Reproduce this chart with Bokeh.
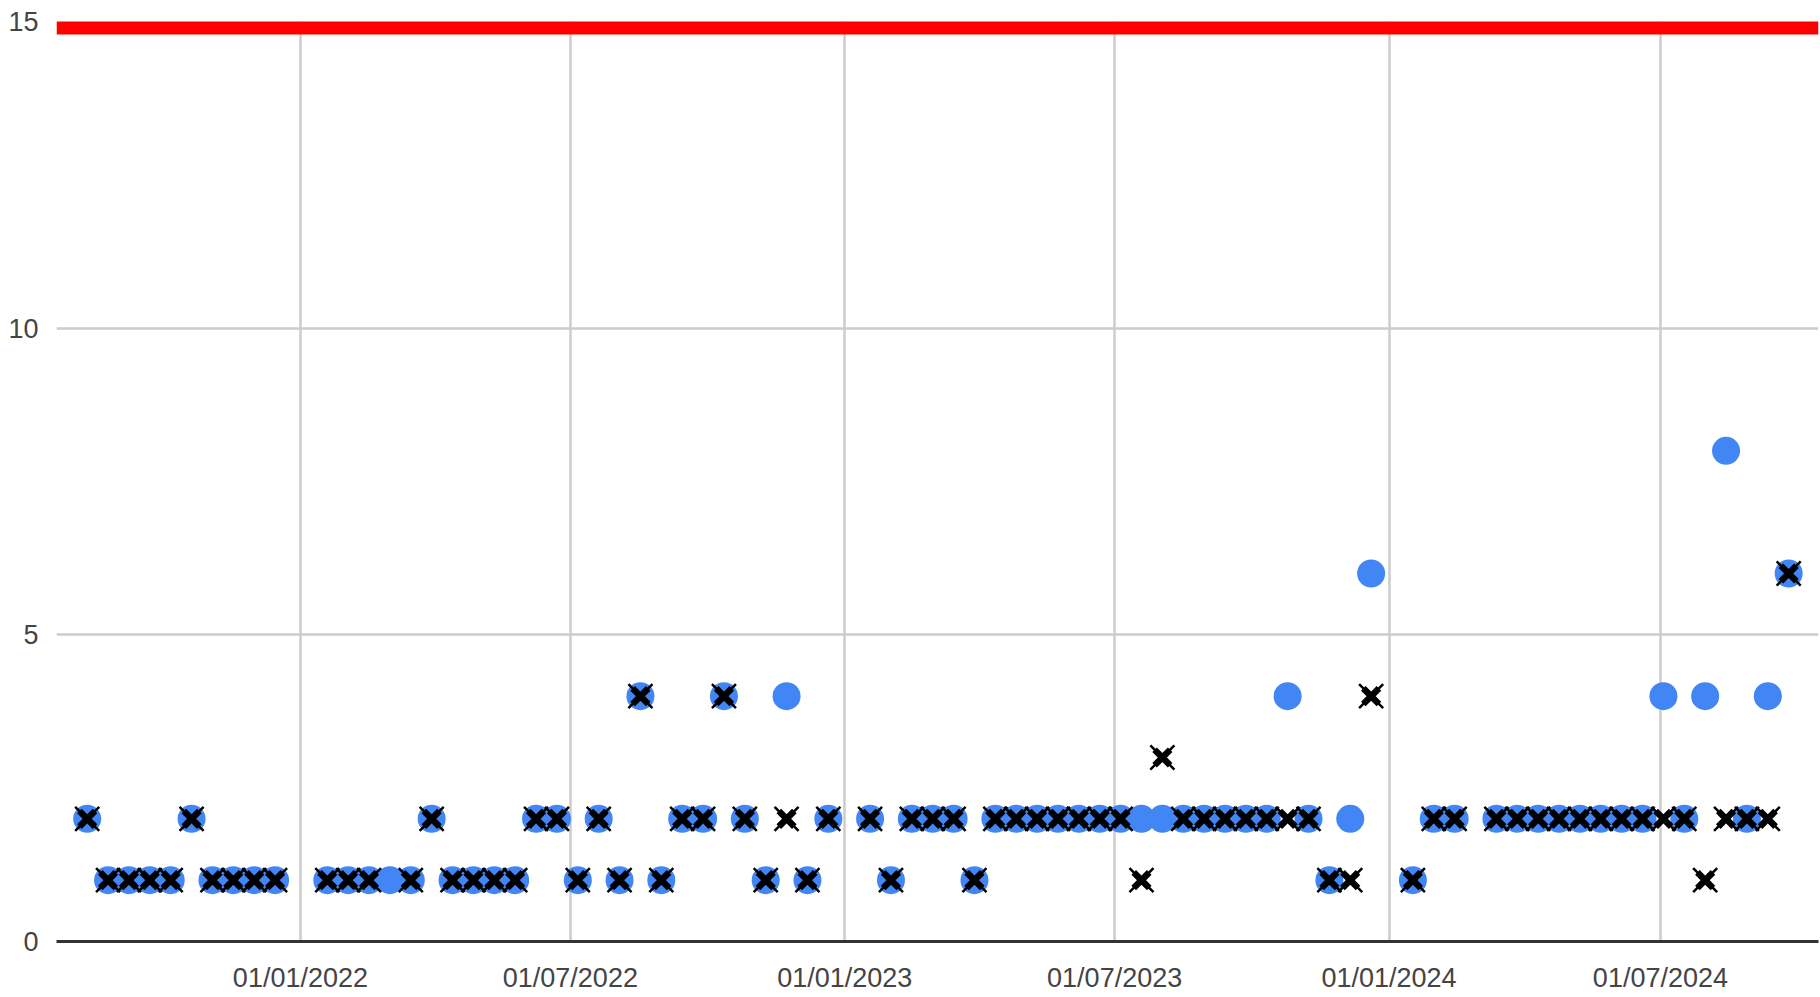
import pandas as pd
from bokeh.plotting import figure
from bokeh.models import Range1d, FixedTicker, DatetimeTickFormatter, ColumnDataSource
from bokeh.embed import file_html
from bokeh.resources import INLINE

# ---- data ----
dates = [
    "2021-08-11", "2021-08-25", "2021-09-08", "2021-09-22", "2021-10-06", "2021-10-20",
    "2021-11-03", "2021-11-17", "2021-12-01", "2021-12-15",
    "2022-01-19", "2022-02-02", "2022-02-16", "2022-03-02", "2022-03-16", "2022-03-30",
    "2022-04-13", "2022-04-27", "2022-05-11", "2022-05-25", "2022-06-08", "2022-06-22",
    "2022-07-06", "2022-07-20", "2022-08-03", "2022-08-17", "2022-08-31", "2022-09-14",
    "2022-09-28", "2022-10-12", "2022-10-26", "2022-11-09", "2022-11-23", "2022-12-07",
    "2022-12-21",
    "2023-01-18", "2023-02-01", "2023-02-15", "2023-03-01", "2023-03-15", "2023-03-29",
    "2023-04-12", "2023-04-26", "2023-05-10", "2023-05-24", "2023-06-07", "2023-06-21",
    "2023-07-05", "2023-07-19", "2023-08-02", "2023-08-16", "2023-08-30", "2023-09-13",
    "2023-09-27", "2023-10-11", "2023-10-25", "2023-11-08", "2023-11-22", "2023-12-06",
    "2023-12-20",
    "2024-01-17", "2024-01-31", "2024-02-14", "2024-03-13", "2024-03-27", "2024-04-10",
    "2024-04-24", "2024-05-08", "2024-05-22", "2024-06-05", "2024-06-19", "2024-07-03",
    "2024-07-17", "2024-07-31", "2024-08-14", "2024-08-28", "2024-09-11", "2024-09-25",
]
circle_values = [
    2, 1, 1, 1, 1, 2, 1, 1, 1, 1,
    1, 1, 1, 1, 1, 2, 1, 1, 1, 1, 2, 2, 1, 2, 1, 4, 1, 2, 2, 4, 2, 1, 4, 1, 2,
    2, 1, 2, 2, 2, 1, 2, 2, 2, 2, 2, 2, 2, 2, 2, 2, 2, 2, 2, 2, 4, 2, 1, 2, 6,
    1, 2, 2, 2, 2, 2, 2, 2, 2, 2, 2, 4, 2, 4, 8, 2, 4, 6,
]
cross_values = [
    2, 1, 1, 1, 1, 2, 1, 1, 1, 1,
    1, 1, 1, None, 1, 2, 1, 1, 1, 1, 2, 2, 1, 2, 1, 4, 1, 2, 2, 4, 2, 1, 2, 1, 2,
    2, 1, 2, 2, 2, 1, 2, 2, 2, 2, 2, 2, 2, 1, 3, 2, 2, 2, 2, 2, 2, 2, 1, 1, 4,
    1, 2, 2, 2, 2, 2, 2, 2, 2, 2, 2, 2, 2, 1, 2, 2, 2, 6,
]
threshold = [15]
y_ticks = [0, 5, 10, 15]
x_tick_dates = ["2022-01-01", "2022-07-01", "2023-01-01", "2023-07-01", "2024-01-01", "2024-07-01"]
x_start = "2021-07-21 10:00"
x_end = "2024-10-15"
y_min, y_max = 0, 15

# ---- build ----
src = ColumnDataSource(dict(
    date=pd.to_datetime(dates),
    circ=[float(v) for v in circle_values],
    cross=[float("nan") if v is None else float(v) for v in cross_values],
))

p = figure(
    width=1820, height=997,
    x_axis_type="datetime",
    x_range=Range1d(pd.Timestamp(x_start), pd.Timestamp(x_end)),
    y_range=Range1d(y_min, y_max),
    output_backend="svg", toolbar_location=None,
    min_border_left=56, min_border_right=2, min_border_top=21, min_border_bottom=56,
    background_fill_color="white", border_fill_color="white",
)
p.outline_line_color = None

# threshold line (clipped to the plot area like the reference)
p.hspan(y=threshold, line_color="#ff0000", line_width=26)

# series
p.scatter(x="date", y="circ", source=src, marker="circle", size=28,
          fill_color="#4285f4", line_color=None)
p.scatter(x="date", y="cross", source=src, marker="x", size=34,
          line_color="black", line_width=2.5)
p.scatter(x="date", y="cross", source=src, marker="x", size=22,
          line_color="black", line_width=6.5)

tick_ms = [pd.Timestamp(d).value // 10**6 for d in x_tick_dates]
xticker = FixedTicker(ticks=tick_ms)
yticker = FixedTicker(ticks=y_ticks)
p.xaxis.ticker = xticker
p.yaxis.ticker = yticker
p.xgrid.ticker = xticker
p.ygrid.ticker = yticker

fmt = "%d/%m/%Y"
p.xaxis.formatter = DatetimeTickFormatter(
    milliseconds=fmt, seconds=fmt, minsec=fmt, minutes=fmt, hourmin=fmt, hours=fmt,
    days=fmt, months=fmt, years=fmt)

for g in (p.xgrid, p.ygrid):
    g.grid_line_color = "#cccccc"
    g.grid_line_width = 2.5

for ax in (p.xaxis, p.yaxis):
    ax.major_tick_line_color = None
    ax.minor_tick_line_color = None
    ax.major_tick_out = 0
    ax.major_tick_in = 0
    ax.major_label_text_font = "Liberation Sans"
    ax.major_label_text_font_size = "27px"
    ax.major_label_text_color = "#444444"

p.xaxis.axis_line_color = "#333333"
p.xaxis.axis_line_width = 3
p.xaxis.major_label_standoff = 21
p.yaxis.axis_line_color = None
p.yaxis.major_label_standoff = 18

open("out.html", "w").write(file_html(p, INLINE))
